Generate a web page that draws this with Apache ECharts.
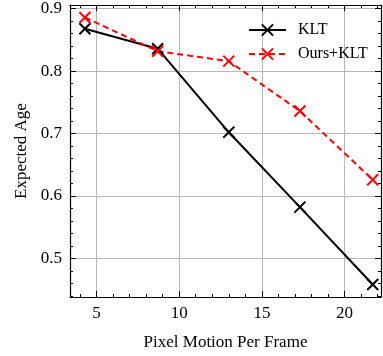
<!DOCTYPE html>
<html>
<head>
<meta charset="utf-8">
<script src="https://cdn.jsdelivr.net/npm/echarts@6/dist/echarts.min.js"></script>
<style>
  html, body { margin: 0; padding: 0; background: #fff; }
  #chart { width: 383px; height: 356px; }
</style>
</head>
<body>
<div id="chart"></div>
<script>
// values
const motion = [4.3, 8.7, 13.0, 17.3, 21.7];
const kltAge = [0.868, 0.836, 0.702, 0.582, 0.458];
const oursAge = [0.886, 0.832, 0.816, 0.736, 0.626];
const seriesNames = ["KLT", "Ours+KLT"];

const xRange = [3.4, 22.2];
const yRange = [0.438, 0.906];

const cross = "path://M0,0L10,10M10,0L0,10";
const font = "Liberation Serif";

function pairs(xs, ys) {
  return xs.map((x, i) => [x, ys[i]]);
}

function frameAxis(extra) {
  // shared look for all four sides: ticks pointing in
  return Object.assign({
    type: "value",
    axisLine: { show: true, onZero: false, lineStyle: { color: "#000", width: 1.2 } },
    axisTick: { show: true, inside: true, length: 6, lineStyle: { color: "#000" } },
    minorTick: { show: true, splitNumber: 5, length: 3, lineStyle: { color: "#000" } },
    splitLine: { show: false },
    axisLabel: { show: false },
  }, extra);
}

let chart = echarts.init(document.getElementById("chart"), null, { renderer: "canvas" });
let option = {
  animation: false,
  backgroundColor: "#fff",
  grid: { left: 70, right: 2, top: 5, bottom: 53 },
  legend: {
    left: 243,
    top: 17,
    orient: "vertical",
    itemWidth: 37,
    itemHeight: 14,
    itemGap: 8,
    data: seriesNames,
    textStyle: { fontFamily: font, fontSize: 16, color: "#000", padding: [0, 0, 0, 7] },
  },
  xAxis: [
    frameAxis({
      min: xRange[0],
      max: xRange[1],
      splitNumber: 4,
      minInterval: 5,
      maxInterval: 5,
      name: "Pixel Motion Per Frame",
      nameLocation: "middle",
      nameGap: 37,
      nameTextStyle: { fontFamily: font, fontSize: 17, color: "#000" },
      splitLine: { show: true, lineStyle: { color: "#b8b8b8", width: 1 } },
      axisLabel: {
        show: true, margin: 8, showMinLabel: false, showMaxLabel: false,
        fontFamily: font, fontSize: 17, color: "#000",
      },
    }),
    frameAxis({
      position: "top",
      min: xRange[0],
      max: xRange[1],
      splitNumber: 4,
      minInterval: 5,
      maxInterval: 5,
    }),
  ],
  yAxis: [
    frameAxis({
      min: yRange[0],
      max: yRange[1],
      minInterval: 0.1,
      maxInterval: 0.1,
      name: "Expected Age",
      nameLocation: "middle",
      nameGap: 37,
      nameTextStyle: { fontFamily: font, fontSize: 17, color: "#000" },
      splitLine: { show: true, lineStyle: { color: "#b8b8b8", width: 1 } },
      axisLabel: {
        show: true, margin: 8, showMinLabel: false, showMaxLabel: false,
        fontFamily: font, fontSize: 17, color: "#000",
        formatter: (v) => v.toFixed(1),
      },
    }),
    frameAxis({
      position: "right",
      min: yRange[0],
      max: yRange[1],
      minInterval: 0.1,
      maxInterval: 0.1,
    }),
  ],
  series: [
    {
      name: seriesNames[0],
      type: "line",
      data: pairs(motion, kltAge),
      symbol: cross,
      symbolSize: 11,
      color: "#000",
      lineStyle: { color: "#000", width: 2 },
      itemStyle: { color: "#000", borderColor: "#000", borderWidth: 2 },
    },
    {
      name: seriesNames[1],
      type: "line",
      data: pairs(motion, oursAge),
      symbol: cross,
      symbolSize: 11,
      color: "#ff0000",
      lineStyle: { color: "#ff0000", width: 2, type: [6, 4] },
      itemStyle: { color: "#ff0000", borderColor: "#ff0000", borderWidth: 2 },
    },
  ],
};
chart.setOption(option);
</script>
</body>
</html>
